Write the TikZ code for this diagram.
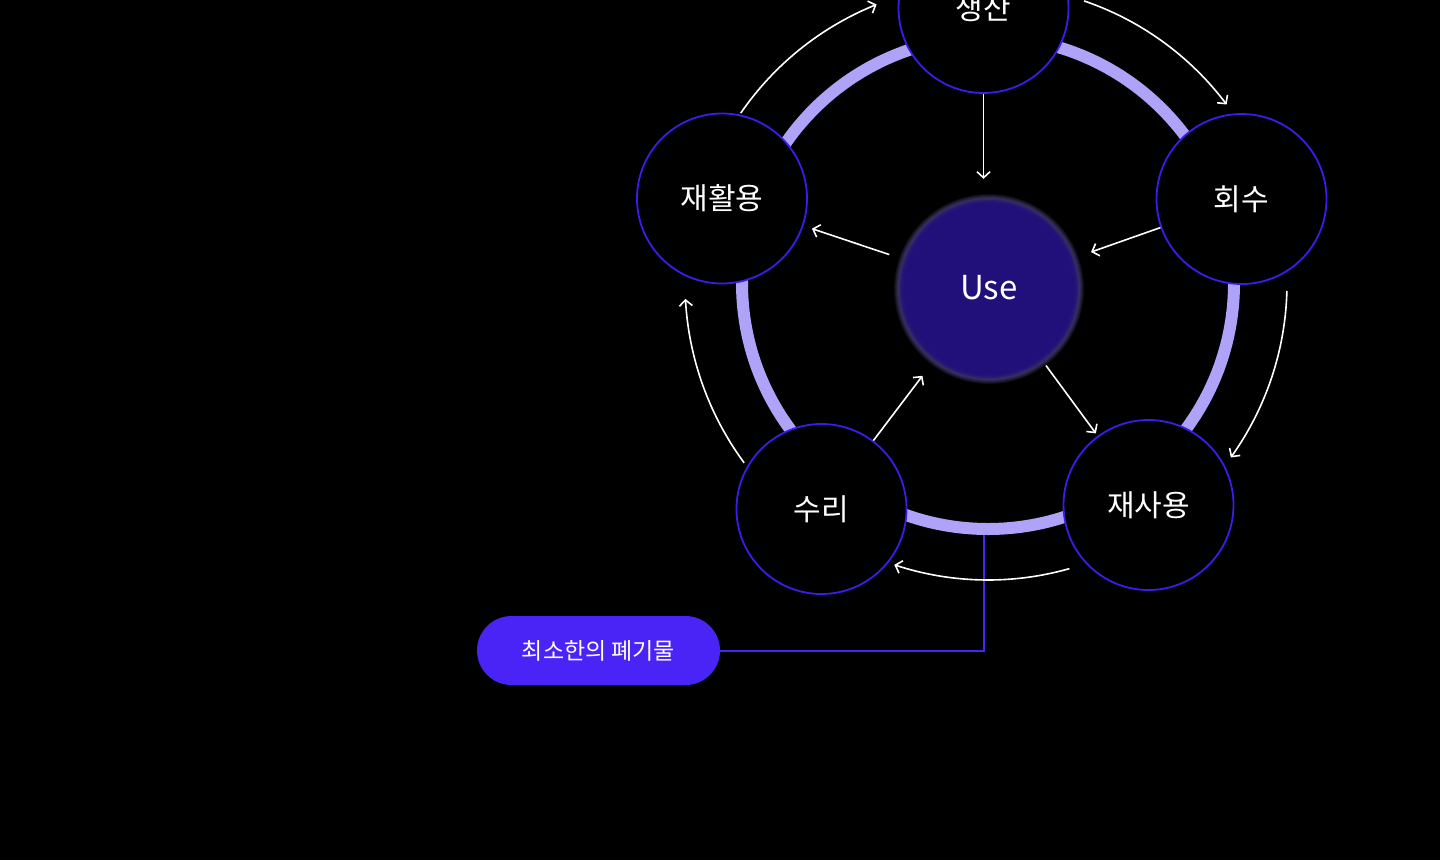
\documentclass[tikz,border=0pt]{standalone}
\usepackage{fontspec}
\setmainfont{Noto Sans CJK KR}
\usetikzlibrary{arrows.meta}
\definecolor{ringc}{HTML}{AEA2F9}
\definecolor{edgec}{HTML}{3A1CEB}
\definecolor{pillc}{HTML}{4A24F6}
\definecolor{usec}{HTML}{22107A}
\definecolor{glowc}{HTML}{6F62B8}
\tikzset{
  stage/.style={circle, draw=edgec, line width=1.8pt, fill=black, minimum size=170pt, inner sep=0pt, text=white, font=\fontsize{30}{30}\selectfont},
  usenode/.style={circle, minimum size=184pt, inner sep=0pt, text=white, font=\fontsize{33}{33}\selectfont},
  arr/.style={draw=white, line width=1.6pt, -{Straight Barb[length=6pt,width=13pt,line width=1.6pt]}},
  ring/.style={draw=ringc, line width=12pt},
  pill/.style={rectangle, rounded corners=34.5pt, fill=pillc, minimum width=243pt, minimum height=69pt, text=white, font=\fontsize{23}{23}\selectfont},
  conn/.style={draw=pillc, line width=2pt}
}
\begin{document}
\begin{tikzpicture}[x=1pt,y=-1pt]
\useasboundingbox[fill=black] (0,0) rectangle (1440,860);
% ring
\draw[ring] (988,283) circle[radius=246pt];
% Use glow
\foreach \r in {95,94,93,92,91,90}{
  \fill[glowc, opacity=0.13] (989,289) circle[radius=\r pt];
}
\foreach \r in {90,89,88,87,86}{
  \fill[usec, opacity=0.4] (989,289) circle[radius=\r pt];
}
\fill[usec] (989,289) circle[radius=85pt];
\node[usenode] (use) at (989,288) {Use};
% stage nodes
\node[stage] (p) at (983.5,8) {생산};
\node[stage] (h) at (1241.5,199) {회수};
\node[stage] (j) at (1148.5,505) {재사용};
\node[stage] (s) at (821.5,509) {수리};
\node[stage] (r) at (722,198.5) {재활용};
% pill
\node[pill] (w) at (598.5,650.5) {최소한의 폐기물};
\coordinate (rb) at (984,535);
\draw[conn] (w.east) -| (rb);
% inner arrows
\draw[arr, shorten >=17pt] (p.south) -- (p.south |- use.north);
\draw[arr, shorten >=16pt] (h) -- (use);
\draw[arr, shorten <=4pt, shorten >=3pt] (use) -- (j);
\draw[arr, shorten >=18pt] (s) -- (use);
\draw[arr, shorten <=13pt, shorten >=9pt] (use) -- (r);
% outer arcs
\draw[arr] plot[domain=214.5:248.2, samples=40] ({988+300*cos(\x)},{283+300*sin(\x)});
\draw[arr] plot[domain=288.8:323.2, samples=40] ({988+298*cos(\x)},{283+298*sin(\x)});
\draw[arr] plot[domain=1.5:35.7, samples=40] ({988+299*cos(\x)},{283+299*sin(\x)});
\draw[arr] plot[domain=74.1:108.4, samples=40] ({988+297*cos(\x)},{283+297*sin(\x)});
\draw[arr] plot[domain=143.6:177, samples=40] ({988+303*cos(\x)},{283+303*sin(\x)});
\end{tikzpicture}
\end{document}
